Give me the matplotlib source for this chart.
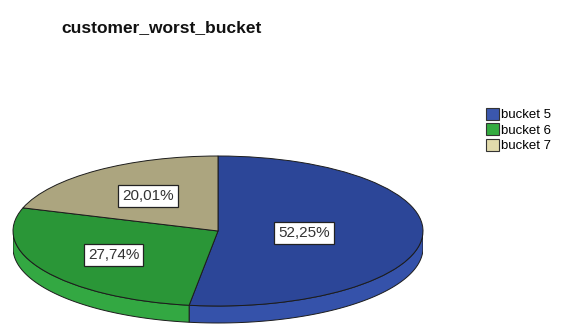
import matplotlib
matplotlib.use('Agg')
import matplotlib.pyplot as plt
import numpy as np
from matplotlib.patches import Patch, Polygon

plt.rcParams['font.family'] = ['Liberation Sans', 'DejaVu Sans']

# 数据
labels = ['bucket 5', 'bucket 6', 'bucket 7']
values = [52.25, 27.74, 20.01]
title = 'customer_worst_bucket'

# 颜色：顶面、侧面、图例
top_colors = ['#2c4698', '#2a9637', '#aca57f']
side_colors = ['#3552aa', '#33a842', '#bcb58d']
legend_colors = ['#3b57ad', '#34ab40', '#e2dbac']
label_r = [0.42, 0.60, 0.58]

W, H = 574, 325
fig = plt.figure(figsize=[W/100, H/100], dpi=100)

# 椭圆饼图的像素几何
cx, cy, a, b, depth = 218, 231, 205, 75, 17
d = depth/b
ylo = -1.3
ax = fig.add_axes([(cx-a)/W, (H-(cy-b)-(1-ylo)*b)/H, 2*a/W, (1-ylo)*b/H])

wedges, _ = ax.pie(values, colors=top_colors, startangle=90, counterclock=False,
                   wedgeprops=dict(edgecolor='#1c1c1c', linewidth=0.7))
for w in wedges:
    w.set_zorder(2)

# 每块的起止角度（顺时针）
frac = np.array(values)/np.sum(values)
start = 90-360*np.concatenate([[0], np.cumsum(frac)[:-1]])
end = start-360*frac

# 侧面（只画前半圈 -180~0 度）
for i in range(len(values)):
    t1, t2 = max(end[i], -180), min(start[i], 0)
    if t2 <= t1:
        continue
    t = np.radians(np.linspace(t1, t2, 60))
    xs = np.concatenate([np.cos(t), np.cos(t[::-1])])
    ys = np.concatenate([np.sin(t), np.sin(t[::-1])-d])
    ax.add_patch(Polygon(np.column_stack([xs, ys]), closed=True,
                         fc=side_colors[i], ec='#1c1c1c', lw=0.7, zorder=1))

# 百分比标签
for i in range(len(values)):
    mid = np.radians((start[i]+end[i])/2)
    txt = ('%.2f%%' % values[i]).replace('.', ',')
    ax.text(label_r[i]*np.cos(mid), label_r[i]*np.sin(mid), txt,
            ha='center', va='center', fontsize=11, color='#333333', zorder=5,
            bbox=dict(boxstyle='square,pad=0.25', fc='white', ec='#222222', lw=0.9))

ax.set_aspect('auto')
ax.set_xlim(-1, 1)
ax.set_ylim(ylo, 1)
ax.axis('off')

fig.text(61/W, 1-28/H, title, fontsize=12.5, fontweight='bold',
         color='#111111', ha='left', va='center')

handles = [Patch(fc=c, ec='#333333', lw=0.8) for c in legend_colors]
fig.legend(handles, labels, loc='upper left', bbox_to_anchor=(486/W, 1-108/H),
           frameon=False, fontsize=9.5, handlelength=1.0, handleheight=1.0,
           handletextpad=0.15, labelspacing=0.15, borderpad=0, borderaxespad=0)

fig.savefig('out.png', dpi=100)
